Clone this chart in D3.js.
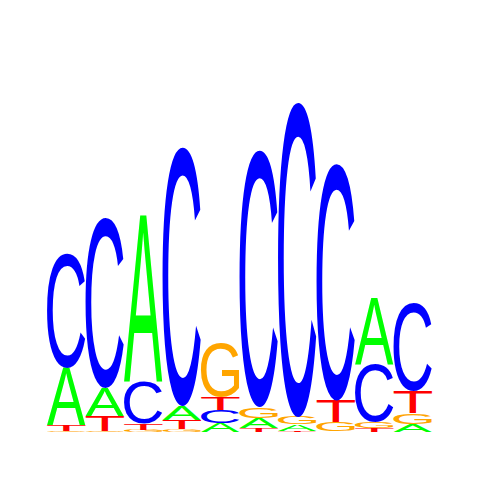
<!DOCTYPE html>
<html>
<head>
<meta charset="utf-8">
<script src="https://cdn.jsdelivr.net/npm/d3@7"></script>
<style>
  html, body { margin: 0; padding: 0; background: #fff; }
</style>
</head>
<body>
<div id="logo"></div>
<script>
// positions of the motif and information content (bits) per base
var positions = [1, 2, 3, 4, 5, 6, 7, 8, 9, 10];
var bases = ["A", "C", "G", "T"];
var bitsA = [0.285, 0.14, 0.83, 0.07, 0.045, 0.05, 0.034, 0.002, 0.335, 0.04];
var bitsC = [0.575, 0.85, 0.21, 1.295, 0.064, 1.285, 1.575, 1.185, 0.29, 0.44];
var bitsG = [0.005, 0.003, 0.01, 0.015, 0.27, 0.055, 0.037, 0.045, 0.03, 0.055];
var bitsT = [0.03, 0.075, 0.03, 0.045, 0.066, 0.02, 0.003, 0.11, 0.02, 0.11];
var colors = {A: "#00ff00", C: "#0000ff", G: "#ffa500", T: "#ff0000"};

var w = 480, h = 480;
var fontFamily = "'Liberation Sans', Arial, Helvetica, sans-serif";
var fontSpec = "100px " + fontFamily;

var svg = d3.select("#logo").append("svg")
    .attr("width", w)
    .attr("height", h);

var x = d3.scaleBand().domain(positions).range([47, 432]).padding(0);
var y = d3.scaleLinear().domain([0, 2]).range([432, 32]);

// tight glyph bounds, measured once on a canvas
var ctx = document.createElement("canvas").getContext("2d");
ctx.font = fontSpec;
var glyph = {};
bases.forEach(function(b) {
  var m = ctx.measureText(b);
  glyph[b] = {
    left: m.actualBoundingBoxLeft,
    width: m.actualBoundingBoxLeft + m.actualBoundingBoxRight,
    ascent: m.actualBoundingBoxAscent,
    height: m.actualBoundingBoxAscent + m.actualBoundingBoxDescent
  };
});

var bits = {A: bitsA, C: bitsC, G: bitsG, T: bitsT};
var stacks = positions.map(function(p, i) {
  var col = bases.map(function(b) { return {base: b, value: bits[b][i]}; });
  col.sort(function(a, b) { return a.value - b.value; });
  var acc = 0;
  col.forEach(function(d) { d.y0 = acc; acc += d.value; d.y1 = acc; d.pos = p; });
  return col;
});

var col = svg.selectAll(".column")
    .data(stacks)
  .enter().append("g")
    .attr("class", "column");

col.selectAll("text")
    .data(function(d) { return d; })
  .enter().append("text")
    .attr("transform", function(d) {
      var g = glyph[d.base];
      var top = y(d.y1), bot = y(d.y0);
      var sx = x.bandwidth() / g.width, sy = (bot - top) / g.height;
      return "translate(" + x(d.pos) + "," + top + ") scale(" + sx + "," + sy + ")";
    })
    .attr("x", function(d) { return glyph[d.base].left; })
    .attr("y", function(d) { return glyph[d.base].ascent; })
    .style("font", fontSpec)
    .style("fill", function(d) { return colors[d.base]; })
    .text(function(d) { return d.base; });
</script>
</body>
</html>
